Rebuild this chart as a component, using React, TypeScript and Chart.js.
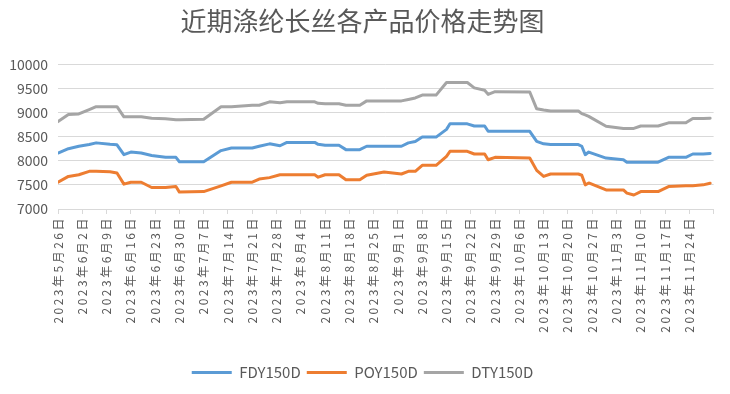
import React, { useEffect, useRef } from "react";
import { Chart, registerables } from "chart.js";

Chart.register(...registerables);

const tickLabels = [
  "2023年5月26日", "2023年6月2日", "2023年6月9日", "2023年6月16日", "2023年6月23日",
  "2023年6月30日", "2023年7月7日", "2023年7月14日", "2023年7月21日", "2023年7月28日",
  "2023年8月4日", "2023年8月11日", "2023年8月18日", "2023年8月25日", "2023年9月1日",
  "2023年9月8日", "2023年9月15日", "2023年9月22日", "2023年9月29日", "2023年10月6日",
  "2023年10月13日", "2023年10月20日", "2023年10月27日", "2023年11月3日", "2023年11月10日",
  "2023年11月17日", "2023年11月24日",
];

// day offsets from 2023-05-26
const days = [
  0, 3, 6, 9, 11, 15, 17, 19, 21, 24, 27, 31, 34, 35, 42, 47, 50, 56, 58, 61,
  64, 66, 74, 75, 77, 81, 83, 87, 89, 94, 99, 101, 103, 105, 109, 112, 113, 118, 120, 123,
  124, 126, 136, 138, 140, 142, 150, 151, 152, 153, 158, 163, 164, 166, 168, 173, 176, 181, 183, 186,
  188,
];

const fdy = [
  8160, 8250, 8300, 8335, 8370, 8340, 8330, 8125, 8180, 8160, 8110, 8070, 8070, 7980, 7980, 8210, 8265, 8265, 8300, 8350,
  8310, 8380, 8380, 8340, 8320, 8320, 8230, 8230, 8300, 8300, 8300, 8370, 8400, 8490, 8490, 8650, 8765, 8765, 8720, 8720,
  8610, 8610, 8610, 8400, 8350, 8335, 8335, 8300, 8125, 8180, 8055, 8020, 7970, 7970, 7970, 7970, 8070, 8070, 8140, 8140,
  8150,
];

const poy = [
  7555, 7675, 7710, 7780, 7780, 7770, 7745, 7515, 7555, 7555, 7445, 7445, 7465, 7350, 7360, 7480, 7555, 7555, 7620, 7650,
  7710, 7710, 7710, 7660, 7710, 7710, 7605, 7605, 7700, 7765, 7725, 7780, 7780, 7905, 7905, 8090, 8195, 8195, 8140, 8140,
  8020, 8070, 8055, 7800, 7675, 7725, 7725, 7700, 7500, 7540, 7395, 7395, 7330, 7290, 7360, 7360, 7465, 7480, 7480, 7500,
  7535,
];

const dty = [
  8810, 8960, 8970, 9060, 9120, 9120, 9120, 8910, 8910, 8910, 8880, 8870, 8850, 8850, 8860, 9120, 9120, 9150, 9150, 9220,
  9200, 9220, 9220, 9190, 9180, 9180, 9150, 9150, 9240, 9240, 9240, 9270, 9300, 9360, 9360, 9620, 9620, 9620, 9510, 9460,
  9375, 9430, 9425, 9075, 9050, 9030, 9030, 8975, 8950, 8920, 8715, 8670, 8670, 8670, 8720, 8720, 8785, 8785, 8875, 8875,
  8880,
];

const seriesNames = ["FDY150D", "POY150D", "DTY150D"];
const seriesColors = ["#5B9BD5", "#ED7D31", "#A5A5A5"];

const FONT = '"Noto Sans CJK SC", "Liberation Sans", sans-serif';

const spacedXLabels = {
  id: "spacedXLabels",
  beforeDraw(chart: any) {
    const sx = chart.scales.x;
    if (sx && !sx._spacedWrapped) {
      const orig = sx.drawLabels.bind(sx);
      sx.drawLabels = (area: any) => {
        const c = chart.ctx as any;
        c.save();
        c.letterSpacing = "2.5px";
        orig(area);
        c.restore();
      };
      sx._spacedWrapped = true;
    }
  },
};

export default function App() {
  const ref = useRef<HTMLCanvasElement | null>(null);

  useEffect(() => {
    if (!ref.current) return;
    const series = [fdy, poy, dty];
    const chart = new Chart(ref.current, {
      type: "line",
      data: {
        datasets: series.map((vals, si) => ({
          label: seriesNames[si],
          data: days.map((d, i) => ({ x: d, y: vals[i] })),
          borderColor: seriesColors[si],
          backgroundColor: seriesColors[si],
          borderWidth: 3,
          pointRadius: 0,
          tension: 0,
          borderCapStyle: "round" as const,
          borderJoinStyle: "round" as const,
        })),
      },
      plugins: [spacedXLabels],
      options: {
        animation: false,
        responsive: false,
        maintainAspectRatio: false,
        layout: { padding: { left: 0, right: 5, top: 0, bottom: 4 } },
        plugins: {
          title: {
            display: true,
            text: "近期涤纶长丝各产品价格走势图",
            color: "#595959",
            font: { family: FONT, size: 26, weight: "normal" },
            padding: { top: 6, bottom: 27 },
          },
          legend: {
            position: "bottom",
            labels: {
              usePointStyle: true,
              pointStyle: "line",
              pointStyleWidth: 40,
              boxHeight: 10,
              color: "#595959",
              font: { family: FONT, size: 15 },
              padding: 6,
            },
          },
          tooltip: { enabled: false },
        },
        scales: {
          x: {
            type: "linear",
            min: 0,
            max: 189,
            afterFit: (scale: any) => {
              scale.height = 150;
            },
            grid: {
              display: true,
              drawOnChartArea: false,
              drawTicks: true,
              tickLength: 5,
              color: "#D9D9D9",
            },
            border: { display: true, color: "#D9D9D9" },
            ticks: {
              stepSize: 7,
              autoSkip: false,
              maxRotation: 90,
              minRotation: 90,
              padding: 2,
              color: "#595959",
              font: { family: FONT, size: 12 },
              callback: (value: any) => {
                const idx = Math.round(Number(value) / 7);
                return tickLabels[idx] ?? "";
              },
            },
          },
          y: {
            min: 7000,
            max: 10000,
            afterFit: (scale: any) => {
              scale.width = 58;
            },
            grid: { color: "#D9D9D9", drawTicks: false },
            border: { display: false },
            ticks: {
              stepSize: 500,
              padding: 10,
              color: "#595959",
              font: { family: FONT, size: 14 },
              callback: (value: any) => String(value),
            },
          },
        },
      },
    });
    return () => chart.destroy();
  }, []);

  return (
    <div style={{ position: "absolute", left: 0, top: 0, width: 730, height: 394, background: "#fff" }}>
      <canvas ref={ref} width={730} height={394} style={{ display: "block" }} />
    </div>
  );
}
